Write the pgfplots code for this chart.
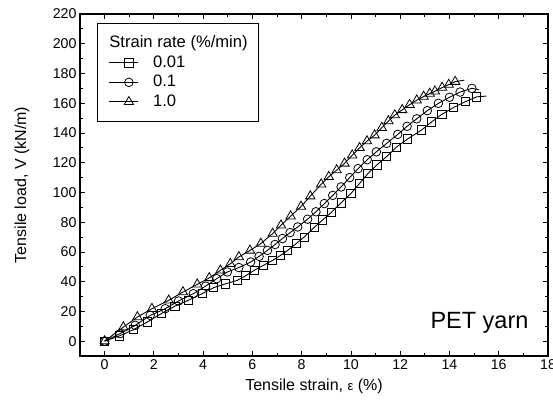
\documentclass[border=0pt]{standalone}
\usepackage{pgfplots}
\pgfplotsset{compat=1.18}
\usepackage{fontspec}
\setmainfont{Liberation Sans}

\begin{document}
\begin{tikzpicture}
\begin{axis}[
  scale only axis, width=468pt, height=342pt,
  xmin=-1, xmax=18, ymin=-10, ymax=220,
  xtick={0,2,...,18}, minor xtick={-1,1,...,17},
  ytick={0,20,...,220}, minor ytick={-10,10,...,210},
  tick align=inside,
  major tick length=5pt, minor tick length=3pt,
  tick style={black, line width=0.8pt},
  axis line style={line width=1.2pt},
  ticklabel style={font=\fontsize{14.2}{16}\selectfont},
  /pgf/number format/assume math mode=true,
  xlabel={Tensile strain, {\fontsize{13}{15}\selectfont ε} (\%)},
  ylabel={Tensile load, V (kN/m)},
  label style={font=\fontsize{16}{19}\selectfont},
  x label style={at={(axis description cs:0.5,-0.0877)}, anchor=center},
  y label style={at={(axis description cs:-0.124,0.5)}, anchor=center},
  legend cell align=left,
  legend style={at={(axis cs:-0.31,214)}, anchor=north west, draw=black, line width=0.9pt,
    font=\fontsize{16.6}{19}\selectfont,
    nodes={inner sep=0pt, text height=12.5pt, text depth=3.5pt},
    row sep=3.5pt, inner xsep=11pt, inner ysep=12pt,
    /tikz/every odd column/.append style={column sep=14.7pt}},
  legend image code/.code={\draw[mark repeat=2, mark phase=2, line width=0.9pt] plot coordinates {(0pt,0pt)(20pt,0pt)(29pt,0pt)};},
]
\addlegendimage{empty legend}
\addlegendentry{\hspace{-43.7pt}Strain rate (\%/min)}

\addplot[black, line width=0.9pt, mark=square, mark size=4.1pt, mark options={solid, fill=white, line width=0.8pt}] coordinates {
(0,0) (0.6,3.5) (1.17,7.7) (1.75,13) (2.3,18.5) (2.85,23.5) (3.4,27.5) (3.96,31.9)
(4.43,36) (4.9,38.5) (5.39,40.9) (5.73,44) (6.07,47.6) (6.45,51) (6.82,54.3) (7.13,57.5)
(7.43,61) (7.77,65.5) (8.1,70) (8.51,76.5) (8.85,81.5) (9.2,86.5) (9.6,93) (10.0,99.3)
(10.35,106) (10.69,112.7) (11.05,118.5) (11.44,124) (11.85,130.5) (12.3,136) (12.87,142)
(13.28,147.5) (13.69,152.5) (14.15,157) (14.64,161) (15.1,164.3)
};
\addlegendentry{0.01}
\addplot[black, line width=0.9pt, mark=o, mark size=4.3pt, mark options={solid, fill=white, line width=0.8pt}] coordinates {
(0,0) (0.62,5) (1.24,10.6) (1.85,17.3) (2.46,21.8) (3.0,27) (3.6,31.9) (4.1,37)
(4.55,42) (4.98,46.5) (5.45,49.5) (5.93,53.2) (6.27,57) (6.61,61) (6.92,65) (7.22,69)
(7.53,73) (7.84,76.8) (8.24,82) (8.58,87) (8.92,92.5) (9.26,98) (9.6,103.7) (9.95,110)
(10.29,116) (10.66,122) (11.03,127.3) (11.45,133) (11.9,139) (12.28,144.5) (12.67,149.5)
(13.1,155) (13.55,159.9) (14.0,164) (14.43,167.5) (14.91,170)
};
\addlegendentry{0.1}
\addplot[black, line width=0.9pt, mark=triangle, mark size=5.4pt, mark options={solid, fill=white, line width=0.8pt}] coordinates {
(0,0) (0.76,9.4) (1.33,16.2) (1.92,21.8) (2.6,27.4) (3.18,33) (3.76,38.2) (4.25,42.5)
(4.7,47.6) (5.1,52) (5.45,56.6) (5.9,61) (6.34,65.6) (6.82,72.3) (7.16,77.9) (7.55,84)
(7.97,90.5) (8.35,97.5) (8.79,105.5) (9.1,110.5) (9.42,115) (9.74,119.5) (10.05,125)
(10.35,130) (10.65,134.5) (10.96,138.5) (11.25,143.5) (11.52,148) (11.78,152) (12.08,155.5)
(12.38,159) (12.67,162) (12.95,164.5) (13.2,166.5) (13.41,168) (13.7,170.5) (13.97,172.5)
(14.23,174.5)
};
\addlegendentry{1.0}
\addplot[forget plot, black, line width=0.9pt, no marks] coordinates {(15.1,164.3) (15.5,164.8)};
\addplot[forget plot, black, line width=0.9pt, no marks] coordinates {(14.91,170) (15.2,169)};
\addplot[forget plot, black, line width=0.9pt, no marks] coordinates {(14.23,174.5) (14.6,175.5)};

\node[anchor=base east, font=\fontsize{23.5}{27}\selectfont] at (axis cs:17.35,8.3) {PET yarn};
\end{axis}
\pgfresetboundingbox
\path[use as bounding box] ([xshift=-80pt,yshift=-51pt]current axis.south west) rectangle ([xshift=5pt,yshift=14pt]current axis.north east);
\end{tikzpicture}
\end{document}
